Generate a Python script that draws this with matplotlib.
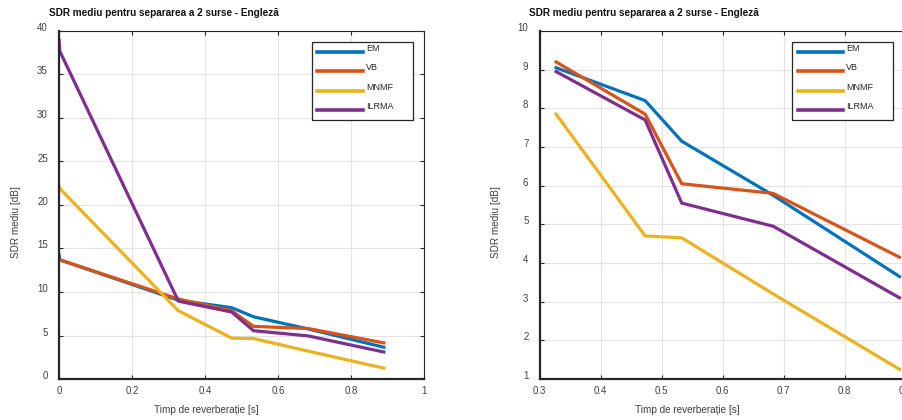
import matplotlib
matplotlib.use('Agg')
import matplotlib.pyplot as plt
import matplotlib.transforms as mtransforms
from matplotlib.ticker import FormatStrFormatter

# reverberation times [s] (two anechoic points at 0 on the left plot)
t60 = [0.0, 0.002, 0.327, 0.473, 0.533, 0.683, 0.89]

sdr_em = [14.3, 13.7, 9.05, 8.2, 7.15, 5.75, 3.65]
sdr_vb = [13.7, 13.7, 9.2, 7.85, 6.05, 5.8, 4.15]
sdr_mnmf = [22.2, 21.9, 7.85, 4.7, 4.65, 3.2, 1.25]
sdr_ilrma = [39.0, 37.7, 8.95, 7.7, 5.55, 4.95, 3.1]

labels = ['EM', 'VB', 'MNMF', 'ILRMA']
colors = ['#0072BD', '#D95319', '#EDB120', '#7E2F8E']
series = [sdr_em, sdr_vb, sdr_mnmf, sdr_ilrma]

title = 'SDR mediu pentru separarea a 2 surse - Engleză'
xlab = 'Timp de reverberație [s]'
ylab = 'SDR mediu [dB]'

W, H = 903, 420
fig = plt.figure(figsize=(W / 100, H / 100), dpi=100)
plt.rcParams['font.family'] = ['Liberation Sans', 'DejaVu Sans']

txt_col = '#404040'


def make_axes(left_px, right_px, first, xlim, ylim, xticks, yticks, leg_x0):
    top_px, bot_px = 31, 379
    ax = fig.add_axes([left_px / W, (H - bot_px) / H,
                       (right_px - left_px) / W, (bot_px - top_px) / H])
    for y, lab, c in zip(series, labels, colors):
        ax.plot(t60[first:], y[first:], color=c, lw=2.3, label=lab,
                solid_joinstyle='miter')
    ax.set_xlim(*xlim)
    ax.set_ylim(*ylim)
    ax.set_xticks(xticks)
    ax.set_yticks(yticks)
    ax.xaxis.set_major_formatter(FormatStrFormatter('%g'))
    ax.grid(True, color='#e3e3e3', lw=0.8)
    ax.set_axisbelow(True)
    ax.tick_params(direction='in', length=3, width=0.8, top=True, right=True,
                   labelsize=7, colors='#262626', labelcolor=txt_col)
    ax.tick_params(axis='x', pad=5)
    ax.tick_params(axis='y', pad=8)
    for s in ax.spines.values():
        s.set_color('#262626')
        s.set_linewidth(0.8)
    for s in ['left', 'bottom']:
        ax.spines[s].set_linewidth(1.6)
    off = mtransforms.ScaledTranslation(0, 4 / 100, fig.dpi_scale_trans)
    for lb in ax.get_yticklabels():
        lb.set_transform(lb.get_transform() + off)
    leg_w = 101 / (right_px - left_px)
    leg = ax.legend(loc='upper left', bbox_to_anchor=(leg_x0, 0.967, leg_w, 0.0),
                    mode='expand', fontsize=6.5, handlelength=5.0,
                    handletextpad=0.4, labelspacing=1.15, borderpad=0.6,
                    borderaxespad=0, fancybox=False, framealpha=1,
                    edgecolor='#262626')
    leg.get_frame().set_linewidth(0.9)
    for ln in leg.get_lines():
        ln.set_linewidth(2.6)
    for t in leg.get_texts():
        t.set_color('#262626')
        t.set_transform(t.get_transform() + off)
    return ax


make_axes(59, 424, 0, (0, 1), (0, 40), [0, 0.2, 0.4, 0.6, 0.8, 1],
          [0, 5, 10, 15, 20, 25, 30, 35, 40], 0.693)
make_axes(539.6, 905.6, 2, (0.3, 0.9), (1, 10),
          [0.3, 0.4, 0.5, 0.6, 0.7, 0.8, 0.9], list(range(1, 11)), 0.69)

for x0, xc in [(49, 206), (529, 687)]:
    fig.text(x0 / W, 1 - 13 / H, title, fontsize=7.2, fontweight='bold',
             ha='left', va='center', color='#111111')
    fig.text(xc / W, 1 - 410 / H, xlab, fontsize=7.2, ha='center',
             va='center', color=txt_col)
for xc in [16, 496]:
    fig.text(xc / W, 1 - 222 / H, ylab, fontsize=7.2, rotation=90,
             ha='center', va='center', color=txt_col)

fig.savefig('out.png', dpi=100)
